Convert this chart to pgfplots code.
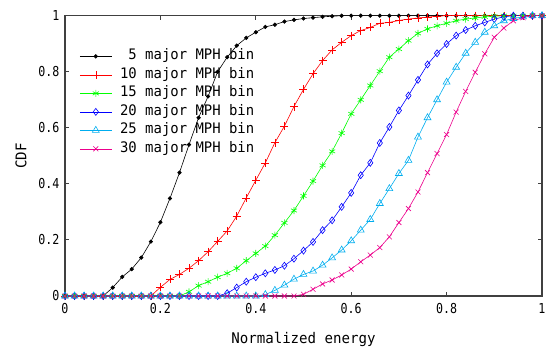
\documentclass[border=0pt]{standalone}
\usepackage{pgfplots}
\pgfplotsset{compat=1.18}
\usepackage{pgfplotstable}
\usepackage{fontspec}
\setmainfont[FakeStretch=0.96]{DejaVu Sans Mono}
\newfontfamily\tickfont[FakeStretch=0.85]{DejaVu Sans Mono}
\definecolor{axgray}{RGB}{64,64,64}

\pgfplotstableread{
x     a     b     c     d     e     f
0.00  0     0     0     0     0     0
0.02  0     0     0     0     0     0
0.04  0     0     0     0     0     0
0.06  0     0     0     0     0     0
0.08  0     0     0     0     0     0
0.10  0.030 0     0     0     0     0
0.12  0.068 0     0     0     0     0
0.14  0.096 0     0     0     0     0
0.16  0.137 0     0     0     0     0
0.18  0.194 0     0     0     0     0
0.20  0.263 0.031 0     0     0     0
0.22  0.348 0.059 0     0     0     0
0.24  0.440 0.077 0     0     0     0
0.26  0.540 0.099 0.015 0     0     0
0.28  0.636 0.126 0.037 0     0     0
0.30  0.712 0.158 0.051 0     0     0
0.32  0.800 0.195 0.067 0     0     0
0.34  0.852 0.232 0.081 0.010 0     0
0.36  0.893 0.285 0.099 0.030 0     0
0.38  0.921 0.350 0.126 0.051 0     0
0.40  0.941 0.413 0.152 0.067 0     0
0.42  0.960 0.475 0.178 0.081 0.005 0
0.44  0.968 0.547 0.217 0.093 0.020 0
0.46  0.979 0.606 0.261 0.108 0.039 0
0.48  0.985 0.676 0.305 0.133 0.060 0
0.50  0.990 0.737 0.357 0.162 0.077 0.006
0.52  0.993 0.793 0.410 0.193 0.089 0.024
0.54  0.996 0.840 0.466 0.235 0.110 0.043
0.56  0.998 0.878 0.516 0.270 0.136 0.057
0.58  1     0.905 0.581 0.318 0.164 0.075
0.60  1     0.929 0.650 0.368 0.197 0.096
0.62  1     0.947 0.700 0.431 0.235 0.122
0.64  1     0.958 0.751 0.475 0.273 0.146
0.66  1     0.973 0.802 0.546 0.330 0.173
0.68  1     0.976 0.852 0.603 0.383 0.211
0.70  1     0.983 0.881 0.662 0.437 0.262
0.72  1     0.988 0.911 0.715 0.484 0.312
0.74  1     0.992 0.937 0.771 0.567 0.371
0.76  1     0.995 0.953 0.826 0.636 0.440
0.78  1     0.998 0.964 0.866 0.700 0.508
0.80  1     1     0.973 0.899 0.763 0.576
0.82  1     1     0.982 0.929 0.816 0.656
0.84  1     1     0.988 0.949 0.866 0.730
0.86  1     1     0.992 0.964 0.905 0.798
0.88  1     1     0.996 0.976 0.941 0.864
0.90  1     1     0.998 0.988 0.964 0.923
0.92  1     1     1     0.996 0.982 0.956
0.94  1     1     1     1     0.990 0.982
0.96  1     1     1     1     0.996 0.993
0.98  1     1     1     1     1     1
1.00  1     1     1     1     1     1
}\cdf

\begin{document}
\begin{tikzpicture}
\begin{axis}[
  name=ax,
  width=477pt, height=280.3pt, scale only axis,
  xmin=0, xmax=1, ymin=0, ymax=1,
  xtick={0,0.2,0.4,0.6,0.8,1},
  ytick={0,0.2,0.4,0.6,0.8,1},
  tick align=inside,
  xtick pos=both, ytick pos=both,
  major tick length=4.5pt,
  axis line style={line width=1.2pt, axgray},
  every tick/.style={axgray, line width=1pt},
  /pgf/number format/assume math mode=true,
  tick label style={font=\tickfont\fontsize{13.7}{15}\selectfont},
  xticklabel style={yshift=-4pt},
  yticklabel style={xshift=-2pt},
  label style={font=\fontsize{14.7}{16}\selectfont},
  xlabel={Normalized energy},
  ylabel={CDF},
  xlabel style={yshift=-11pt},
  ylabel style={yshift=5pt},
  legend cell align=left,
  legend image code/.code={
    \draw[mark repeat=2, mark phase=2] plot coordinates {(0pt,0pt) (16pt,0pt) (32pt,0pt)};
  },
  legend style={
    draw=none, fill=none,
    at={(rel axis cs:0.03,0.886)}, anchor=north west,
    inner sep=0pt,
    font=\fontsize{14.5}{16}\selectfont,
    row sep=1.5pt,
    nodes={text height=10pt, text depth=3pt},
    /tikz/every odd column/.append style={column sep=6pt},
  },
  every axis plot/.append style={line width=0.6pt},
]
\addplot[black, mark=*, mark size=1.8pt] table[x=x, y=a] {\cdf};
\addlegendentry{\phantom{1}5 major MPH bin}
\addplot[red, mark=+, mark size=4pt] table[x=x, y=b] {\cdf};
\addlegendentry{10 major MPH bin}
\addplot[green, mark=asterisk, mark size=3.5pt] table[x=x, y=c] {\cdf};
\addlegendentry{15 major MPH bin}
\addplot[blue, mark=diamond, mark size=3.5pt] table[x=x, y=d] {\cdf};
\addlegendentry{20 major MPH bin}
\addplot[cyan, mark=triangle, mark size=4pt] table[x=x, y=e] {\cdf};
\addlegendentry{25 major MPH bin}
\addplot[magenta, mark=x, mark size=3.5pt] table[x=x, y=f] {\cdf};
\addlegendentry{30 major MPH bin}
\end{axis}
\pgfresetboundingbox
\useasboundingbox ([shift={(-65pt,-50pt)}]ax.south west) rectangle ([shift={(5pt,15.7pt)}]ax.north east);
\end{tikzpicture}
\end{document}
